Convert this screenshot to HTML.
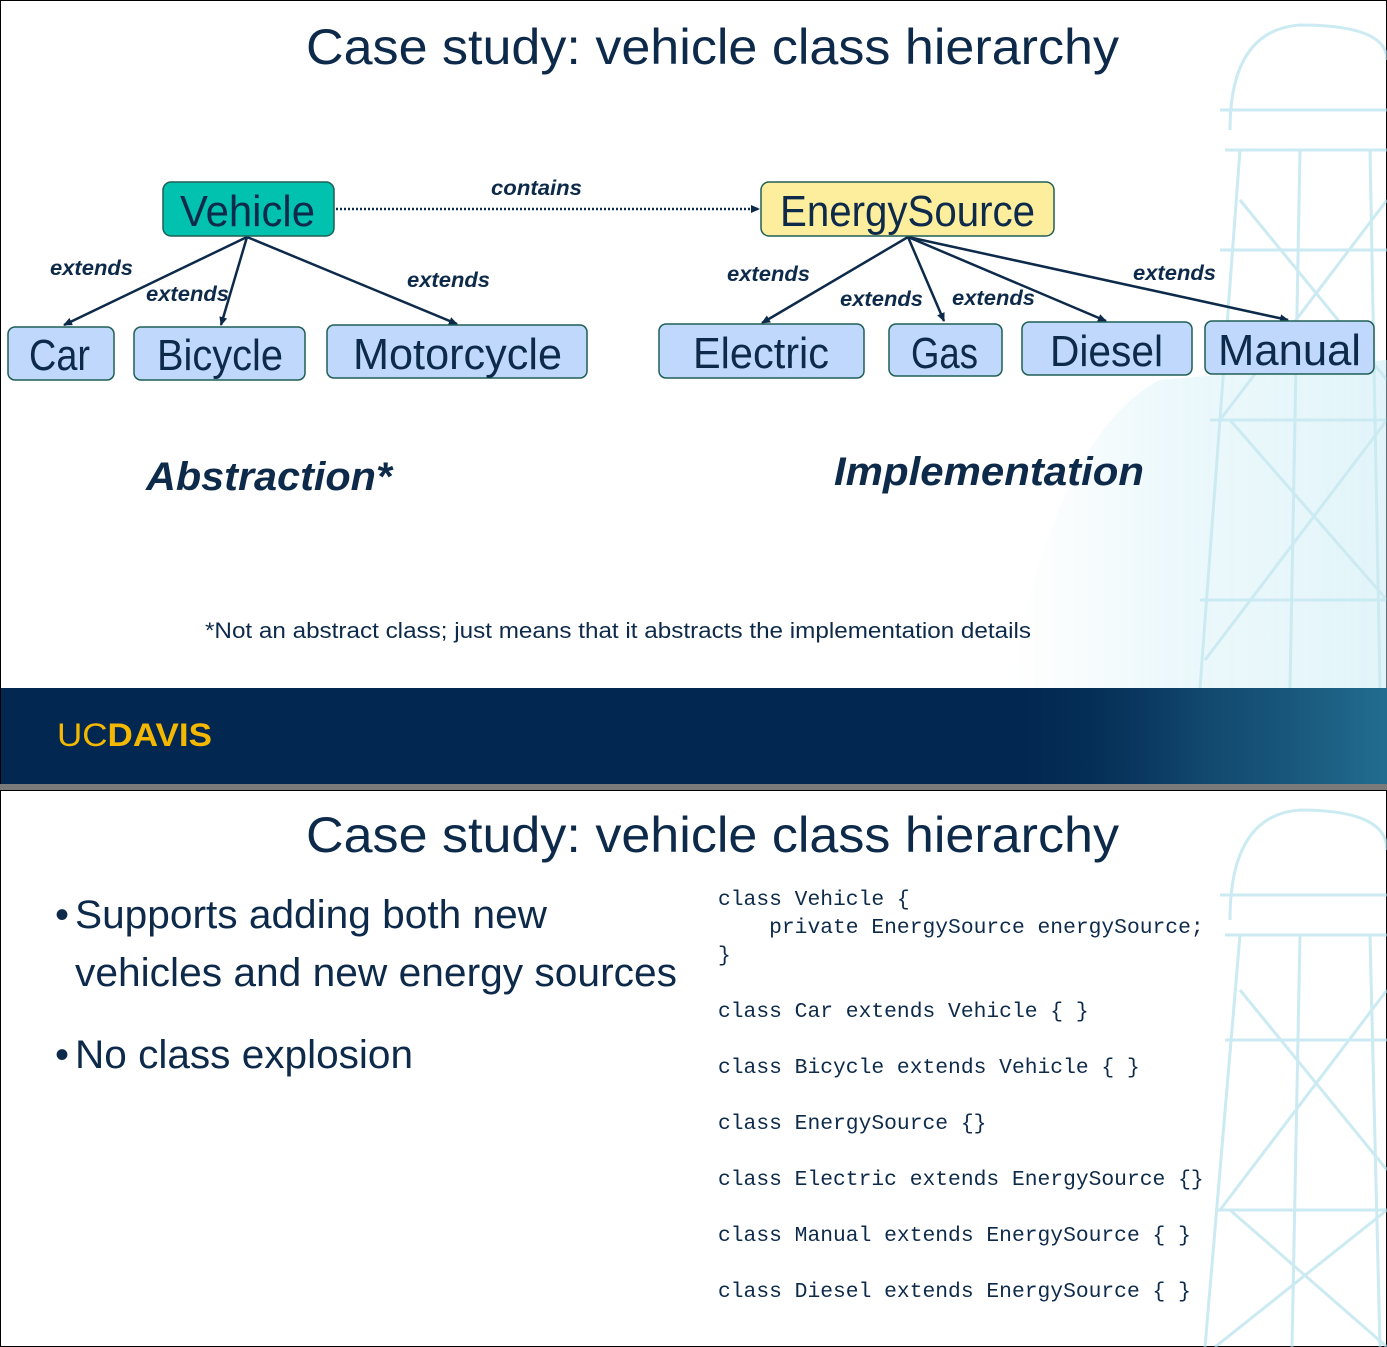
<!DOCTYPE html>
<html><head><meta charset="utf-8"><style>
html,body{margin:0;padding:0;background:#fff;}
svg{display:block;}
text{font-family:"Liberation Sans",sans-serif;}
.box{font-size:44px;fill:#0d2a4a;}
.ext{font-size:21px;font-style:italic;font-weight:bold;fill:#0d2a4a;}
.code{font-family:"Liberation Mono",monospace;font-size:21.3px;fill:#0d2a4a;}
</style></head><body>
<svg width="1387" height="1347" viewBox="0 0 1387 1347" xmlns="http://www.w3.org/2000/svg">
<defs>
<marker id="ah" markerWidth="10" markerHeight="10" refX="8" refY="5" orient="auto" markerUnits="userSpaceOnUse">
<path d="M0,1 L9,5 L0,9 z" fill="#0d2a4a"/></marker>
<linearGradient id="wt" x1="0" y1="0" x2="1" y2="0">
<stop offset="0" stop-color="#d8f0f6" stop-opacity="0"/><stop offset="0.4" stop-color="#cdeef5" stop-opacity="0.6"/><stop offset="1" stop-color="#c2e9f3" stop-opacity="0.8"/></linearGradient>
<linearGradient id="ft" x1="0" y1="0" x2="1" y2="0">
<stop offset="0" stop-color="#022851" stop-opacity="0"/><stop offset="0.5" stop-color="#1b5a7e" stop-opacity="0.6"/><stop offset="1" stop-color="#2a7ea0" stop-opacity="0.8"/></linearGradient>
</defs>
<!-- slide 1 -->
<rect x="0.5" y="0.5" width="1386" height="784" fill="#fff" stroke="#000"/>
<g opacity="0.6">
<path d="M1010,688 C1030,560 1080,420 1160,380 L1387,360 L1387,688 Z" fill="url(#wt)"/>
<g stroke="#a9dde9" stroke-width="3" fill="none">
<path d="M1230,130 Q1230,30 1300,25 Q1387,25 1387,60"/>
<path d="M1225,150 L1387,150"/><path d="M1220,110 L1387,110"/>
<path d="M1240,150 L1200,688"/><path d="M1300,150 L1290,688"/><path d="M1370,150 L1380,688"/>
<path d="M1240,200 L1387,380"/><path d="M1387,200 L1220,420"/>
<path d="M1230,420 L1387,600"/><path d="M1387,420 L1205,660"/>
<path d="M1210,420 L1387,420"/><path d="M1220,250 L1387,250"/><path d="M1200,600 L1387,600"/>
</g></g>
<text x="306" y="64" font-size="50" fill="#0d2a4a" textLength="813" lengthAdjust="spacingAndGlyphs">Case study: vehicle class hierarchy</text>
<g stroke="#0d2a4a" stroke-width="2.5" fill="none" marker-end="url(#ah)">
<line x1="247" y1="237" x2="64" y2="325"/>
<line x1="247" y1="237" x2="221" y2="325"/>
<line x1="247" y1="237" x2="457" y2="324"/>
<line x1="908" y1="237" x2="762" y2="323"/>
<line x1="908" y1="237" x2="944" y2="321"/>
<line x1="908" y1="237" x2="1106" y2="321"/>
<line x1="908" y1="237" x2="1288" y2="320"/>
<line x1="336" y1="209" x2="759" y2="209" stroke-dasharray="2,2" stroke-width="2.5"/>
</g>
<g stroke="#1f5f55" stroke-width="1.5">
<rect x="163" y="182" width="171" height="54" rx="8" fill="#00c2ae"/>
<rect x="761" y="182" width="293" height="54" rx="8" fill="#fdee9e"/>
<rect x="8" y="327" width="106" height="53" rx="7" fill="#bfd8fb"/>
<rect x="134" y="327" width="171" height="53" rx="7" fill="#bfd8fb"/>
<rect x="327" y="325" width="260" height="53" rx="7" fill="#bfd8fb"/>
<rect x="659" y="324" width="205" height="54" rx="7" fill="#bfd8fb"/>
<rect x="889" y="324" width="113" height="52" rx="7" fill="#bfd8fb"/>
<rect x="1022" y="322" width="170" height="53" rx="7" fill="#bfd8fb"/>
<rect x="1205" y="321" width="169" height="53" rx="7" fill="#bfd8fb"/>
</g>
<text class="box" x="180" y="226" textLength="135" lengthAdjust="spacingAndGlyphs">Vehicle</text>
<text class="box" x="780" y="226" textLength="255" lengthAdjust="spacingAndGlyphs">EnergySource</text>
<text class="box" x="29" y="370" textLength="61" lengthAdjust="spacingAndGlyphs">Car</text>
<text class="box" x="157" y="370" textLength="126" lengthAdjust="spacingAndGlyphs">Bicycle</text>
<text class="box" x="353" y="369" textLength="209" lengthAdjust="spacingAndGlyphs">Motorcycle</text>
<text class="box" x="693" y="368" textLength="136" lengthAdjust="spacingAndGlyphs">Electric</text>
<text class="box" x="911" y="368" textLength="67" lengthAdjust="spacingAndGlyphs">Gas</text>
<text class="box" x="1050" y="366" textLength="113" lengthAdjust="spacingAndGlyphs">Diesel</text>
<text class="box" x="1218" y="365" textLength="143" lengthAdjust="spacingAndGlyphs">Manual</text>
<text class="ext" x="491" y="195" textLength="91" lengthAdjust="spacingAndGlyphs">contains</text>
<text class="ext" x="50" y="275" textLength="83" lengthAdjust="spacingAndGlyphs">extends</text>
<text class="ext" x="146" y="301" textLength="83" lengthAdjust="spacingAndGlyphs">extends</text>
<text class="ext" x="407" y="287" textLength="83" lengthAdjust="spacingAndGlyphs">extends</text>
<text class="ext" x="727" y="281" textLength="83" lengthAdjust="spacingAndGlyphs">extends</text>
<text class="ext" x="840" y="306" textLength="83" lengthAdjust="spacingAndGlyphs">extends</text>
<text class="ext" x="952" y="305" textLength="83" lengthAdjust="spacingAndGlyphs">extends</text>
<text class="ext" x="1133" y="280" textLength="83" lengthAdjust="spacingAndGlyphs">extends</text>
<text x="146" y="490" font-size="40" font-weight="bold" font-style="italic" fill="#0d2a4a" textLength="246" lengthAdjust="spacingAndGlyphs">Abstraction*</text>
<text x="834" y="485" font-size="40" font-weight="bold" font-style="italic" fill="#0d2a4a" textLength="310" lengthAdjust="spacingAndGlyphs">Implementation</text>
<text x="205" y="638" font-size="22" fill="#0d2a4a" textLength="826" lengthAdjust="spacingAndGlyphs">*Not an abstract class; just means that it abstracts the implementation details</text>
<rect x="1" y="688" width="1386" height="96" fill="#022851"/>
<rect x="1000" y="688" width="387" height="96" fill="url(#ft)"/>
<text x="57" y="746" font-family="Liberation Serif,serif" font-size="32" fill="#f5b800" textLength="155" lengthAdjust="spacingAndGlyphs">UC<tspan font-family="Liberation Sans,sans-serif" font-weight="bold">DAVIS</tspan></text>
<rect x="0" y="784" width="1387" height="6" fill="#7a7a7a"/>
<!-- slide 2 -->
<rect x="0.5" y="790.5" width="1386" height="556" fill="#fff" stroke="#000"/>
<g opacity="0.6" stroke="#a9dde9" stroke-width="3" fill="none">
<path d="M1230,920 Q1230,815 1300,810 Q1387,810 1387,850"/>
<path d="M1225,935 L1387,935"/><path d="M1220,895 L1387,895"/>
<path d="M1240,935 L1205,1347"/><path d="M1300,935 L1292,1347"/><path d="M1370,935 L1380,1347"/>
<path d="M1240,990 L1387,1170"/><path d="M1387,990 L1220,1210"/>
<path d="M1230,1210 L1387,1347"/><path d="M1387,1210 L1215,1347"/>
<path d="M1215,1210 L1387,1210"/><path d="M1225,1040 L1387,1040"/>
</g>
<text x="306" y="852" font-size="50" fill="#0d2a4a" textLength="813" lengthAdjust="spacingAndGlyphs">Case study: vehicle class hierarchy</text>
<text x="55" y="928" font-size="40" fill="#0d2a4a">•</text>
<text x="75" y="928" font-size="40" fill="#0d2a4a" textLength="472" lengthAdjust="spacingAndGlyphs">Supports adding both new</text>
<text x="75" y="986" font-size="40" fill="#0d2a4a" textLength="602" lengthAdjust="spacingAndGlyphs">vehicles and new energy sources</text>
<text x="55" y="1068" font-size="40" fill="#0d2a4a">•</text>
<text x="75" y="1068" font-size="40" fill="#0d2a4a" textLength="338" lengthAdjust="spacingAndGlyphs">No class explosion</text>
<text class="code" x="718" y="905">class Vehicle {</text>
<text class="code" x="718" y="933" xml:space="preserve">    private EnergySource energySource;</text>
<text class="code" x="718" y="961">}</text>
<text class="code" x="718" y="1017">class Car extends Vehicle { }</text>
<text class="code" x="718" y="1073">class Bicycle extends Vehicle { }</text>
<text class="code" x="718" y="1129">class EnergySource {}</text>
<text class="code" x="718" y="1185">class Electric extends EnergySource {}</text>
<text class="code" x="718" y="1241">class Manual extends EnergySource { }</text>
<text class="code" x="718" y="1297">class Diesel extends EnergySource { }</text>
</svg>
</body></html>
